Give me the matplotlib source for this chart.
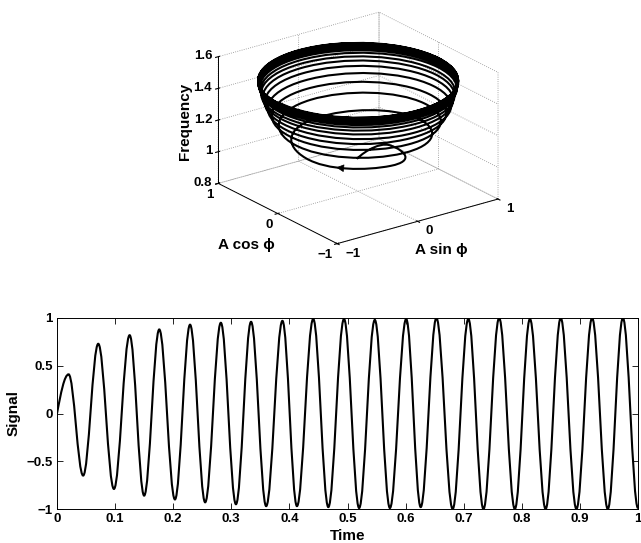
import numpy as np
import matplotlib
matplotlib.use('Agg')
import matplotlib.pyplot as plt
from matplotlib.path import Path
from matplotlib.patches import PathPatch, FancyArrowPatch
from matplotlib.transforms import offset_copy

plt.rcParams['font.family'] = ['Liberation Sans', 'DejaVu Sans']
plt.rcParams['font.weight'] = 'bold'
plt.rcParams['font.size'] = 9.5
plt.rcParams['axes.labelweight'] = 'bold'
plt.rcParams['axes.labelsize'] = 11
plt.rcParams['grid.linestyle'] = ':'
plt.rcParams['grid.color'] = '0.55'
plt.rcParams['grid.linewidth'] = 0.6

# signal extrema (peaks and troughs in order)
ext_time = [0.020, 0.045, 0.071, 0.098, 0.125, 0.150, 0.176, 0.203, 0.229, 0.255,
            0.282, 0.308, 0.334, 0.360, 0.388, 0.413, 0.441, 0.467, 0.494, 0.520,
            0.547, 0.573, 0.601, 0.626, 0.653, 0.681, 0.708, 0.734, 0.761, 0.788,
            0.814, 0.841, 0.867, 0.894, 0.921, 0.948, 0.974, 1.000]
ext_val = [0.41, -0.65, 0.73, -0.79, 0.82, -0.86, 0.88, -0.90, 0.93, -0.93,
           0.95, -0.95, 0.96, -0.97, 0.97, -0.97, 0.99, -0.98, 0.99, -0.99,
           0.98, -0.99, 0.99, -0.98, 1.00, -1.00, 0.99, -1.00, 1.00, -1.00,
           0.99, -1.00, 1.00, -1.00, 1.00, -1.00, 1.00, -0.99]

# A cos(phi) where the signal crosses zero (phi = 0, 180, 360, ...)
quad_val = [0.02, -0.55, 0.70, -0.76, 0.80, -0.84, 0.87, -0.89, 0.91, -0.93,
            0.94, -0.95, 0.96, -0.97, 0.97, -0.97, 0.98, -0.98, 0.99, -0.99,
            0.99, -0.99, 0.99, -0.99, 0.99, -1.00, 1.00, -1.00, 1.00, -1.00,
            1.00, -1.00, 1.00, -1.00, 1.00, -1.00, 1.00, -1.00]

# frequency (z of the spiral) at the zero crossings and at the extrema
zc_freq = [1.000, 1.065, 1.130, 1.185, 1.225, 1.255, 1.280, 1.305, 1.325, 1.345,
           1.365, 1.380, 1.395, 1.410, 1.420, 1.430, 1.440, 1.448, 1.455, 1.461,
           1.466, 1.471, 1.475, 1.478, 1.481, 1.484, 1.486, 1.488, 1.490, 1.492,
           1.494, 1.495, 1.496, 1.497, 1.498, 1.499, 1.500, 1.500]
ext_freq = [1.030, 1.100, 1.160, 1.205, 1.240, 1.270, 1.290, 1.315, 1.335, 1.355,
            1.373, 1.388, 1.403, 1.415, 1.425, 1.435, 1.444, 1.452, 1.458, 1.464,
            1.469, 1.473, 1.477, 1.480, 1.483, 1.485, 1.487, 1.489, 1.491, 1.493,
            1.494, 1.496, 1.497, 1.498, 1.499, 1.499, 1.500, 1.500]

time_ticks = [0, 0.1, 0.2, 0.3, 0.4, 0.5, 0.6, 0.7, 0.8, 0.9, 1]
time_labels = ['0', '0.1', '0.2', '0.3', '0.4', '0.5', '0.6', '0.7', '0.8', '0.9', '1']
sig_ticks = [-1, -0.5, 0, 0.5, 1]
sig_labels = ['\u22121', '\u22120.5', '0', '0.5', '1']
xy_ticks = [-1, 0, 1]
xy_labels = ['\u22121', '0', '1']
freq_ticks = [0.8, 1.0, 1.2, 1.4, 1.6]
freq_labels = ['0.8', '1', '1.2', '1.4', '1.6']

W, H = 641, 543
fig = plt.figure(figsize=(W / 100, H / 100), dpi=100)

# ---------------- lower panel: signal vs time ----------------
ax = fig.add_axes([57 / W, 1 - 509 / H, 581 / W, 191 / H])
t = [0.0] + ext_time
v = [0.0] + ext_val
verts = [(t[0], v[0])]
codes = [Path.MOVETO]
for i in range(len(t) - 1):
    dt = t[i + 1] - t[i]
    if i == 0:
        c1 = (t[0] + 0.326 * dt, v[0] + 0.512 * (v[1] - v[0]))
        c2 = (t[1] - 0.362 * dt, v[1])
    else:
        c1 = (t[i] + 0.364 * dt, v[i])
        c2 = (t[i + 1] - 0.364 * dt, v[i + 1])
    verts += [c1, c2, (t[i + 1], v[i + 1])]
    codes += [Path.CURVE4] * 3
ax.add_patch(PathPatch(Path(verts, codes), fill=False, ec='k', lw=1.5))
ax.set_xlim(0, 1)
ax.set_ylim(-1, 1)
ax.set_xticks(time_ticks, time_labels)
ax.set_yticks(sig_ticks, sig_labels)
ax.tick_params(direction='in', top=True, right=True, length=4, width=0.6, pad=3)
for s in ax.spines.values():
    s.set_linewidth(0.7)
ax.set_xlabel('Time', labelpad=3)
ax.set_ylabel('Signal', labelpad=4)

# ---------------- upper panel: 3D spiral ----------------
side = 305
cxp, cyp = 354, 132
ax3 = fig.add_axes([(cxp - side / 2) / W, 1 - (cyp + side / 2) / H, side / W, side / H],
                   projection='3d')
ax3.set_proj_type('ortho')
ax3.view_init(elev=22, azim=-126.5)
ax3.set_box_aspect((1, 1, 0.683))
ax3.set_xlim(-1, 1)
ax3.set_ylim(-1, 1)
ax3.set_zlim(0.8, 1.6)
ax3.set_xticks(xy_ticks, [''] * len(xy_ticks))
ax3.set_yticks(xy_ticks, [''] * len(xy_ticks))
ax3.set_zticks(freq_ticks, [''] * len(freq_ticks))
for a in (ax3.xaxis, ax3.yaxis, ax3.zaxis):
    a.set_pane_color((1, 1, 1, 0))
    a.line.set_color('k')
    a.line.set_linewidth(0.7)
ax3.patch.set_alpha(0)

M = ax3.get_proj()


def project(xs, ys, zs):
    P = M @ np.vstack([xs, ys, zs, np.ones(len(xs))])
    return P[0] / P[3], P[1] / P[3]


# tick labels of the 3D box, MATLAB-like placement (offsets in pixels)
def tick_label(x, y, z, s, dx, dy, ha):
    px, py = project([x], [y], [z])
    tr = offset_copy(ax3.transData, fig=fig, x=dx, y=-dy, units='dots')
    fig.text(px[0], py[0], s, transform=tr, ha=ha, va='center', fontsize=9.5)


for val, lab in zip(xy_ticks, xy_labels):
    tick_label(val, -1, 0.8, lab, 8, 10, 'left')
    tick_label(-1, val, 0.8, lab, -5, 11.5, 'right')
for val, lab in zip(freq_ticks, freq_labels):
    tick_label(-1, 1, val, lab, -6, -0.5, 'right')

# axis titles of the 3D panel
fig.text(246 / W, 1 - 245 / H, 'A cos \u03d5', ha='center', va='center', fontsize=11)
fig.text(441 / W, 1 - 250 / H, 'A sin \u03d5', ha='center', va='center', fontsize=11)
fig.text(185 / W, 1 - 121 / H, 'Frequency', ha='center', va='center',
         rotation=90, fontsize=11)

# quarter-turn vertices of the spiral: (A sin phi, A cos phi, freq)
sx, sy, sz = [], [], []
for j in range(len(ext_val)):
    sx += [0.0, ext_val[j]]
    sy += [quad_val[j], 0.0]
    sz += [zc_freq[j], ext_freq[j]]

# cubic Bezier control points in 3D (circular arcs between quarter vertices)
h = 0.5523
cx, cy, cz = [sx[0]], [sy[0]], [sz[0]]
for k in range(len(sx) - 1):
    dz = sz[k + 1] - sz[k]
    cx += [sx[k] + h * sy[k], sx[k + 1] - h * sy[k + 1], sx[k + 1]]
    cy += [sy[k] - h * sx[k], sy[k + 1] + h * sx[k + 1], sy[k + 1]]
    cz += [sz[k] + dz / 3, sz[k + 1] - dz / 3, sz[k + 1]]

px, py = project(cx, cy, cz)
pts = np.column_stack([px, py])
scodes = [Path.MOVETO] + [Path.CURVE4] * (len(pts) - 1)
spiral = PathPatch(Path(pts, scodes), fill=False, ec='k', lw=1.5,
                   transform=ax3.transData, clip_on=False)
fig.add_artist(spiral)


def bez(seg, u):
    p = pts[3 * seg: 3 * seg + 4]
    return ((1 - u) ** 3 * p[0] + 3 * (1 - u) ** 2 * u * p[1]
            + 3 * (1 - u) * u ** 2 * p[2] + u ** 3 * p[3])


arrow = FancyArrowPatch(bez(2, 0.5), bez(2, 0.65), arrowstyle='-|>',
                        mutation_scale=12, color='k', lw=0.5,
                        transform=ax3.transData, clip_on=False)
fig.add_artist(arrow)

fig.savefig('out.png', dpi=100)
